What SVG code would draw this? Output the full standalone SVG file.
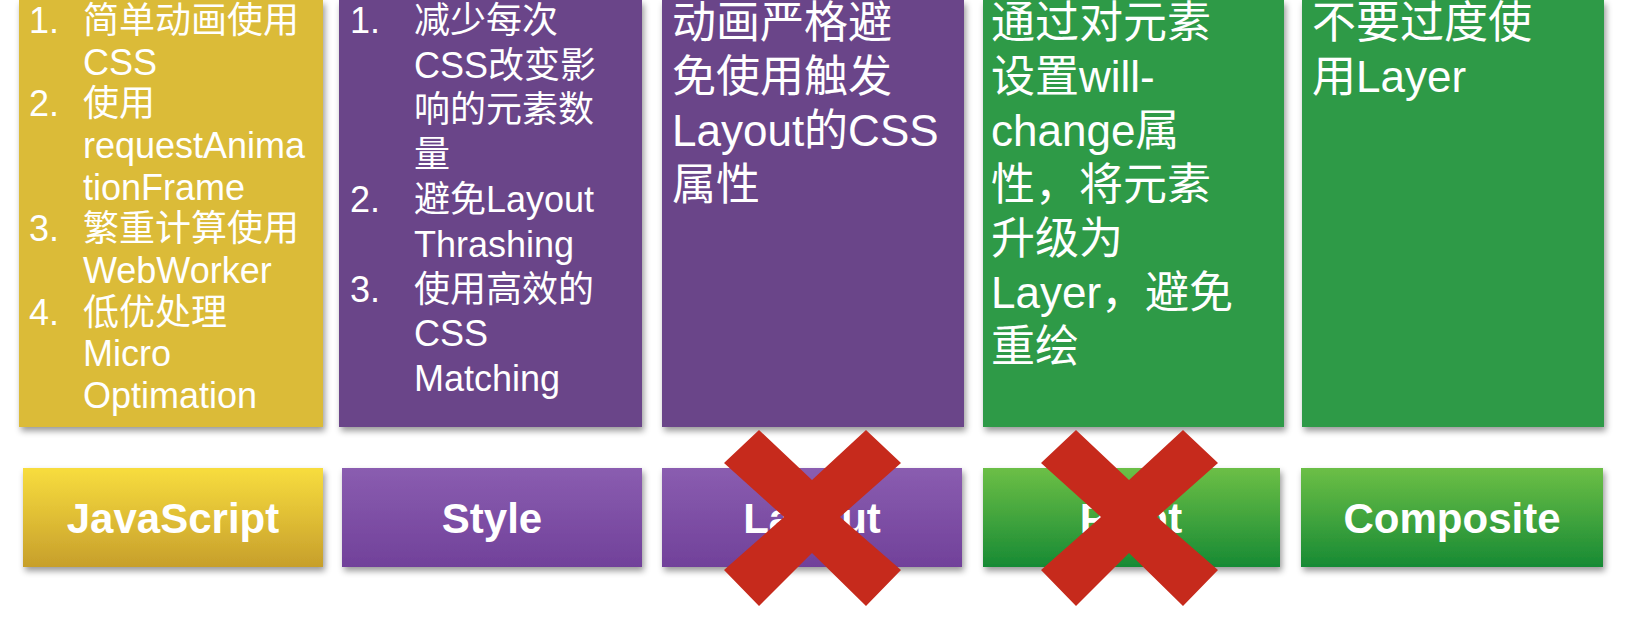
<svg xmlns="http://www.w3.org/2000/svg" width="1632" height="628" viewBox="0 0 1632 628">
<defs>
<linearGradient id="gy" x1="0" y1="0" x2="0" y2="1"><stop offset="0" stop-color="#f8dd3e"/><stop offset="1" stop-color="#c79f2b"/></linearGradient>
<linearGradient id="gp" x1="0" y1="0" x2="0" y2="1"><stop offset="0" stop-color="#8a5db0"/><stop offset="1" stop-color="#71419a"/></linearGradient>
<linearGradient id="gg" x1="0" y1="0" x2="0" y2="1"><stop offset="0" stop-color="#6cbf46"/><stop offset="1" stop-color="#178a34"/></linearGradient>
<filter id="sh" x="-5%" y="-5%" width="115%" height="125%"><feDropShadow dx="2" dy="4" stdDeviation="3" flood-color="#000" flood-opacity="0.4"/></filter>
</defs>
<style>
.t{font-family:"Liberation Sans","Noto Sans CJK SC",sans-serif;fill:#fff}
.s{font-size:36px}
.m{font-size:44px}
.b{font-family:"Liberation Sans",sans-serif;font-weight:bold;font-size:42px;fill:#fff;text-anchor:middle}
.x{fill:#c62a1c}
</style>
<rect width="1632" height="628" fill="#fff"/>
<g id="js-notes">
<rect x="19" y="0" width="304" height="427" fill="#dbbb37" filter="url(#sh)"/>
<g class="t s">
<text x="29" y="33">1.</text><text x="83" y="33">简单动画使用</text>
<text x="83" y="75">CSS</text>
<text x="29" y="116">2.</text><text x="83" y="116">使用</text>
<text x="83" y="158">requestAnima</text>
<text x="83" y="200">tionFrame</text>
<text x="29" y="241">3.</text><text x="83" y="241">繁重计算使用</text>
<text x="83" y="283">WebWorker</text>
<text x="29" y="325">4.</text><text x="83" y="325">低优处理</text>
<text x="83" y="366">Micro</text>
<text x="83" y="408">Optimation</text>
</g>
</g>
<g id="style-notes">
<rect x="339" y="0" width="303" height="427" fill="#6b4489" filter="url(#sh)"/>
<g class="t s">
<text x="350" y="33">1.</text><text x="414" y="33">减少每次</text>
<text x="414" y="78">CSS改变影</text>
<text x="414" y="122">响的元素数</text>
<text x="414" y="167">量</text>
<text x="350" y="212">2.</text><text x="414" y="212">避免Layout</text>
<text x="414" y="257">Thrashing</text>
<text x="350" y="302">3.</text><text x="414" y="302">使用高效的</text>
<text x="414" y="346">CSS</text>
<text x="414" y="391">Matching</text>
</g>
</g>
<g id="layout-notes">
<rect x="662" y="0" width="302" height="427" fill="#6b4489" filter="url(#sh)"/>
<g class="t m">
<text x="672" y="38">动画严格避</text>
<text x="672" y="92">免使用触发</text>
<text x="672" y="146">Layout的CSS</text>
<text x="672" y="200">属性</text>
</g>
</g>
<g id="paint-notes">
<rect x="983" y="0" width="301" height="427" fill="#2f9a46" filter="url(#sh)"/>
<g class="t m">
<text x="991" y="38">通过对元素</text>
<text x="991" y="92">设置will-</text>
<text x="991" y="146">change属</text>
<text x="991" y="200">性，将元素</text>
<text x="991" y="254">升级为</text>
<text x="991" y="308">Layer，避免</text>
<text x="991" y="362">重绘</text>
</g>
</g>
<g id="composite-notes">
<rect x="1302" y="0" width="302" height="427" fill="#2f9a46" filter="url(#sh)"/>
<g class="t m">
<text x="1312" y="38">不要过度使</text>
<text x="1312" y="92">用Layer</text>
</g>
</g>
<g id="javascript"><rect x="23" y="468" width="300" height="99" fill="url(#gy)" filter="url(#sh)"/><text class="b" x="173" y="533">JavaScript</text></g>
<g id="style"><rect x="342" y="468" width="300" height="99" fill="url(#gp)" filter="url(#sh)"/><text class="b" x="492" y="533">Style</text></g>
<g id="layout"><rect x="662" y="468" width="300" height="99" fill="url(#gp)" filter="url(#sh)"/><text class="b" x="812" y="533">Layout</text></g>
<g id="paint"><rect x="983" y="468" width="297" height="99" fill="url(#gg)" filter="url(#sh)"/><text class="b" x="1131" y="533">Paint</text></g>
<g id="composite"><rect x="1301" y="468" width="302" height="99" fill="url(#gg)" filter="url(#sh)"/><text class="b" x="1452" y="533">Composite</text></g>
<g id="connectors">
<polygon class="x" points="759,430 812,480 866,430 901,463 840,517 901,570 866,606 812,553 759,606 724,570 784,517 724,463"/>
<polygon class="x" points="1076,430 1129,480 1183,430 1218,463 1157,517 1218,570 1183,606 1129,553 1076,606 1041,570 1101,517 1041,463"/>
</g>
</svg>
